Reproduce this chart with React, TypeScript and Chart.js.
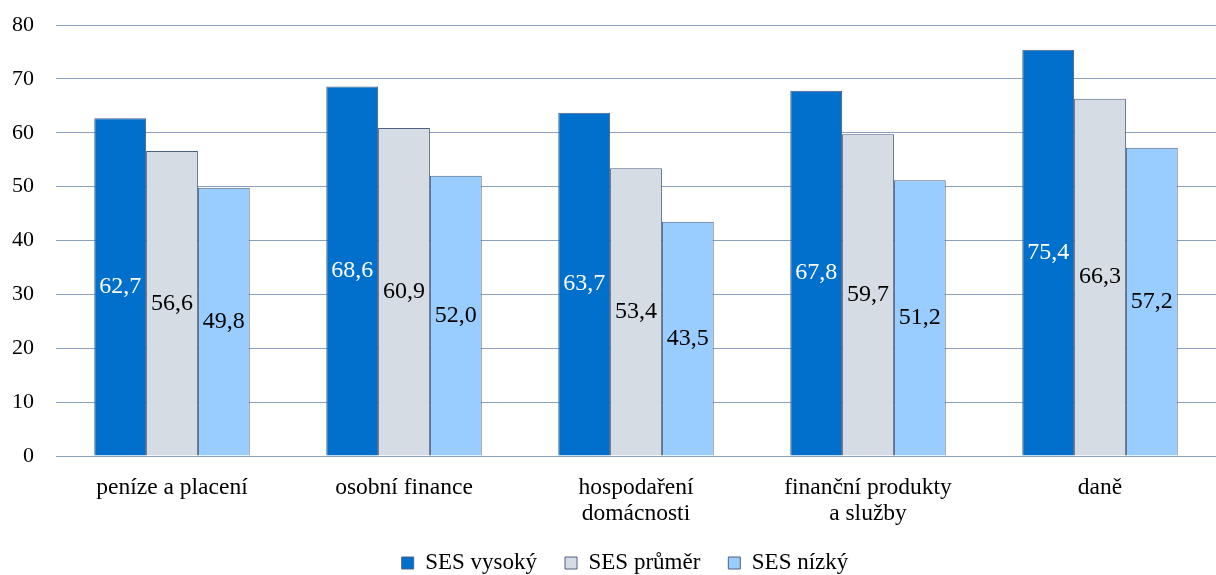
import React, { useEffect, useRef } from "react";
import { Chart, registerables } from "chart.js";

Chart.register(...registerables);

const categories: (string | string[])[] = [
  "peníze a placení",
  "osobní finance",
  ["hospodaření", "domácnosti"],
  ["finanční produkty", "a služby"],
  "daně",
];
const sesHigh = [62.7, 68.6, 63.7, 67.8, 75.4];
const sesAverage = [56.6, 60.9, 53.4, 59.7, 66.3];
const sesLow = [49.8, 52.0, 43.5, 51.2, 57.2];
const seriesNames = ["SES vysoký", "SES průměr", "SES nízký"];
const yTicks = [0, 10, 20, 30, 40, 50, 60, 70, 80];

const FONT = "'Liberation Serif', 'Times New Roman', serif";
const LEGEND_FONT = 23;
const LEGEND_PAD = 28;
const LEGEND_ROW_Y = 563;
const LEGEND_SHIFT_X = 17;

// Writes each bar's value (decimal comma) in the middle of the bar.
const valueLabels = {
  id: "valueLabels",
  afterDatasetsDraw(chart: any) {
    const ctx = chart.ctx;
    ctx.save();
    ctx.font = `24px ${FONT}`;
    ctx.textAlign = "center";
    ctx.textBaseline = "middle";
    chart.data.datasets.forEach((ds: any, di: number) => {
      const meta = chart.getDatasetMeta(di);
      meta.data.forEach((bar: any, i: number) => {
        const v = ds.data[i] as number;
        ctx.fillStyle = di === 0 ? "#ffffff" : "#000000";
        ctx.fillText(v.toFixed(1).replace(".", ","), bar.x, (bar.y + bar.base) / 2);
      });
    });
    ctx.restore();
  },
};

// Moves the legend row down to the bottom edge, below the two-line category labels.
const legendPlacement = {
  id: "legendPlacement",
  afterLayout(chart: any) {
    const lg = chart.legend;
    if (!lg) return;
    const h = lg.height;
    const w = lg.width;
    lg.top = LEGEND_ROW_Y - LEGEND_PAD - LEGEND_FONT / 2;
    lg.bottom = lg.top + h;
    lg.left += LEGEND_SHIFT_X;
    lg.right = lg.left + w;
  },
};

export default function App() {
  const ref = useRef<HTMLCanvasElement>(null);

  useEffect(() => {
    document.body.style.margin = "0";
    const borderColor = "#4f6180";
    const chart = new Chart(ref.current!, {
      type: "bar",
      data: {
        labels: categories,
        datasets: [
          { label: seriesNames[0], data: sesHigh, backgroundColor: "#0070cc", borderColor, borderWidth: 1 },
          { label: seriesNames[1], data: sesAverage, backgroundColor: "#d6dce4", borderColor, borderWidth: 1 },
          { label: seriesNames[2], data: sesLow, backgroundColor: "#99ccff", borderColor, borderWidth: 1 },
        ],
      },
      options: {
        animation: false,
        responsive: false,
        maintainAspectRatio: false,
        layout: { padding: { top: 25, right: 0, bottom: -14, left: 0 } },
        datasets: { bar: { categoryPercentage: 0.67, barPercentage: 1 } },
        plugins: {
          tooltip: { enabled: false },
          legend: {
            position: "bottom",
            labels: {
              font: { family: FONT, size: LEGEND_FONT },
              color: "#000000",
              boxWidth: 12,
              boxHeight: 12,
              padding: LEGEND_PAD,
            },
          },
        },
        scales: {
          x: {
            grid: { display: false },
            border: { display: false },
            ticks: {
              color: "#000000",
              font: { family: FONT, size: 23.5, lineHeight: 1.1 },
              padding: 11,
              maxRotation: 0,
              autoSkip: false,
            },
            afterFit(scale: any) {
              scale.height = 72;
            },
          },
          y: {
            min: 0,
            max: 80,
            afterBuildTicks(scale: any) {
              scale.ticks = yTicks.map((v) => ({ value: v }));
            },
            grid: { color: "#8da0bd", lineWidth: 1, drawTicks: false },
            border: { display: false },
            ticks: {
              color: "#000000",
              font: { family: FONT, size: 22 },
              padding: 22,
            },
            afterFit(scale: any) {
              scale.width = 56;
              scale.paddingTop = 0;
              scale.paddingBottom = 0;
            },
          },
        },
      },
      plugins: [valueLabels, legendPlacement],
    } as any);
    return () => chart.destroy();
  }, []);

  return (
    <div style={{ position: "absolute", left: 0, top: 0, width: 1216, height: 575 }}>
      <canvas ref={ref} width={1216} height={575} />
    </div>
  );
}
